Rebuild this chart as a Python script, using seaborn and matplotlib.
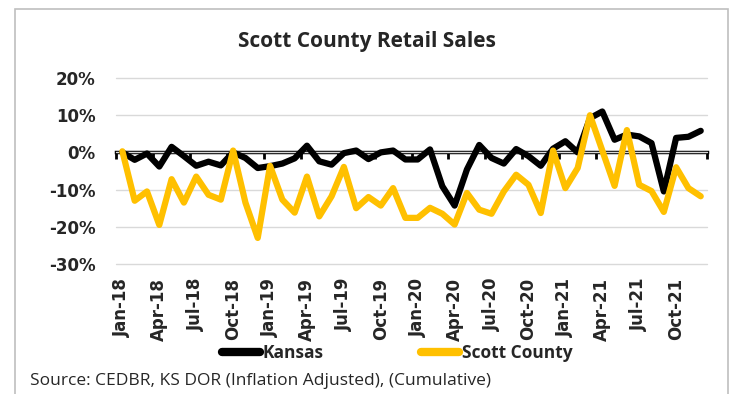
import pandas as pd
import numpy as np
import seaborn as sns
import matplotlib.pyplot as plt
from matplotlib.patches import Rectangle

# monthly categories Jan-18 .. Dec-21
months = list(pd.date_range("2018-01-01", periods=48, freq="MS").strftime("%b-%y"))

# cumulative change, percent
kansas = [0, -2, -0.3, -3.8, 1.5, -1, -3.6, -2.5, -3.5, 0, -1.5, -4.2,
          -3.7, -3, -1.6, 1.8, -2.4, -3.3, -0.2, 0.5, -1.8, 0, 0.5, -1.9,
          -1.9, 0.8, -9.1, -14.3, -4.6, 2, -1.5, -3, 0.9, -1, -3.6, 1,
          3, 0, 9.2, 11, 3.4, 4.8, 4.3, 2.5, -10.5, 3.9, 4.2, 5.8]
scott = [0.3, -13, -10.5, -19.5, -7.2, -13.5, -6.5, -11.4, -12.7, 0.5, -13.5, -23,
         -3.6, -12.7, -16.2, -6.5, -17.2, -11.8, -3.9, -15, -12, -14.3, -9.6, -17.6,
         -17.6, -14.9, -16.5, -19.4, -10.9, -15.4, -16.5, -10.5, -6, -8.7, -16.3, 0.5,
         -9.6, -4.2, 10, 0.5, -9, 6, -8.7, -10.4, -16, -4, -9.6, -11.8]

yticks = [20, 10, 0, -10, -20, -30]

df = pd.DataFrame({
    "idx": list(range(len(months))) * 2,
    "value": kansas + scott,
    "series": ["Kansas"] * len(months) + ["Scott County"] * len(months),
})

sns.set_style("white")
plt.rcParams["font.family"] = ["Open Sans", "DejaVu Sans"]

fig = plt.figure(figsize=(7.31, 3.94), dpi=100)
ax = fig.add_axes([0.159, 0.330, 0.808, 0.472])

sns.lineplot(data=df, x="idx", y="value", hue="series",
             palette={"Kansas": "black", "Scott County": "#FFC000"},
             linewidth=4.5, ax=ax, legend=False, zorder=3,
             solid_joinstyle="round", solid_capstyle="round")

ax.set_xlim(-0.5, len(months) - 0.5)
ax.set_ylim(-30, 20)
ax.set_yticks(yticks)
ax.set_yticklabels([f"{t}%" for t in yticks], fontsize=12, fontweight="bold",
                   family="DejaVu Sans")
ax.yaxis.grid(True, color="#D9D9D9", linewidth=1)
ax.set_axisbelow(True)
for gl in ax.yaxis.get_gridlines():
    gl.set_clip_on(False)
for s in ax.spines.values():
    s.set_visible(False)

ax.set_xticks(range(0, len(months), 3))
ax.set_xticklabels(months[::3], rotation=90, fontsize=12, fontweight="bold",
                   family="DejaVu Sans")
ax.tick_params(axis="y", length=0, pad=15)
ax.tick_params(axis="x", length=0, pad=10)
ax.set_xlabel("")
ax.set_ylabel("")

# zero axis line with tick marks
sec = ax.secondary_xaxis(0.6)
sec.set_xticks(np.arange(-0.5, len(months), 3))
sec.set_xticklabels([])
sec.tick_params(axis="x", which="both", length=5, width=2, color="black",
                bottom=True, top=False, labelbottom=False, labeltop=False,
                direction="out")
for side in ["top", "bottom"]:
    sec.spines[side].set_linewidth(2.5)
    sec.spines[side].set_color("black")

fig.suptitle("Scott County Retail Sales", x=0.502, y=1 - 42 / 394, va="center",
             fontsize=15, fontweight="bold")

handles = [plt.Line2D([], [], color="black", lw=6, solid_capstyle="round"),
           plt.Line2D([], [], color="#FFC000", lw=6, solid_capstyle="round")]
fig.legend(handles, ["Kansas", "Scott County"], loc="center",
           bbox_to_anchor=(397 / 731, 1 - 353 / 394), ncol=2, frameon=False,
           handlelength=2.2, handletextpad=0.15, columnspacing=5.6,
           prop={"size": 12.5, "weight": "bold"})

fig.text(30 / 731, 1 - 381 / 394, "Source: CEDBR, KS DOR (Inflation Adjusted), (Cumulative)",
         va="center", ha="left", fontsize=12.5)

fig.add_artist(Rectangle((15 / 731, -0.1), 713 / 731, 1.1 - 9 / 394,
                         transform=fig.transFigure, fill=False,
                         edgecolor="#BFBFBF", linewidth=1.2))

fig.savefig("out.png", dpi=100)
